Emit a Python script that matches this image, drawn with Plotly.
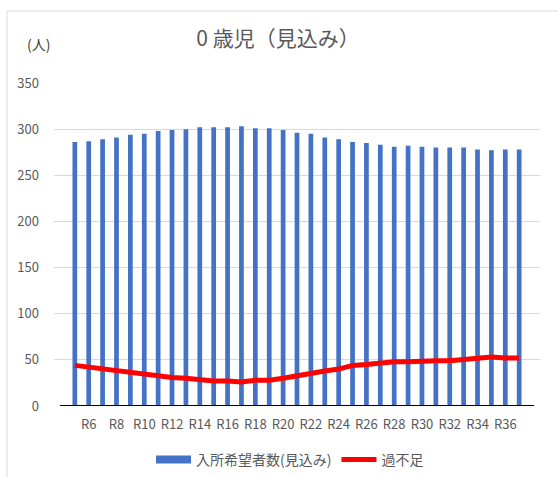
import plotly.graph_objects as go

categories = [f"R{i}" for i in range(5, 38)]
tick_labels = [f"R{i}" for i in range(6, 37, 2)]
demand = [286, 287, 289, 291, 294, 295, 298, 299, 300, 302, 302, 302, 303, 301, 301, 299, 296,
          295, 291, 289, 286, 285, 283, 281, 282, 281, 280, 280, 280, 278, 277, 278, 278]
shortfall = [44, 42, 40, 38, 36, 35, 32, 31, 30, 28, 27, 27, 26, 28, 28, 30, 33,
             35, 38, 40, 44, 45, 47, 48, 48, 49, 49, 49, 50, 52, 53, 52, 52]

font = "Noto Sans CJK JP"
gray = "#595959"
blue = "#4472C4"

fig = go.Figure()
fig.add_trace(go.Bar(x=categories, y=demand, name="入所希望者数(見込み)", showlegend=False,
                     marker=dict(color=blue, line=dict(width=0))))
# legend-only entry so the swatch is a wide rectangle as in the original
fig.add_trace(go.Scatter(x=[None], y=[None], name="入所希望者数(見込み)", mode="lines",
                         line=dict(color=blue, width=8)))
fig.add_trace(go.Scatter(x=categories, y=shortfall, name="過不足", mode="lines",
                         line=dict(color="#FF0000", width=5)))

W, H = 558, 477
L, R, T, B = 54, 18, 83, 71
pw, ph = W - L - R, H - T - B

def px(x):
    return (x - L) / pw

def py(y):
    return (H - B - y) / ph

fig.update_layout(
    width=W, height=H,
    margin=dict(l=L, r=R, t=T, b=B, autoexpand=False),
    paper_bgcolor="white", plot_bgcolor="white",
    font=dict(family=font, color=gray, size=13),
    bargap=0.66,
    title=dict(text="0 歳児（見込み）", x=px(278), xanchor="center", xref="paper",
               y=1 - 39 / H, yanchor="middle", font=dict(size=21, color=gray, family=font)),
    xaxis=dict(range=[-1.5, 33.5], tickmode="array", tickvals=tick_labels, ticktext=tick_labels,
               showgrid=False, showline=False, ticks="", zeroline=False,
               tickfont=dict(size=13, color=gray), ticklabelstandoff=9),
    yaxis=dict(range=[0, 350], dtick=50, showgrid=True, gridcolor="#D9D9D9", gridwidth=1,
               zeroline=False, showline=False, ticks="", tickfont=dict(size=13, color=gray),
               ticklabelstandoff=14),
    legend=dict(orientation="h", x=px(290), xanchor="center", y=py(460), yanchor="middle",
                font=dict(size=14, color=gray), itemwidth=35, tracegroupgap=0),
    showlegend=True,
    annotations=[dict(text="(人)", x=px(38), y=py(44), xref="paper", yref="paper",
                      xanchor="center", yanchor="middle",
                      showarrow=False, font=dict(size=14, color="#404040", family=font))],
    shapes=[
        dict(type="line", xref="x", yref="y", x0=-1.08, x1=33.08, y0=0, y1=0,
             line=dict(color="black", width=2)),
        dict(type="rect", xref="paper", yref="paper", x0=px(7), x1=px(565), y0=py(11), y1=py(490),
             line=dict(color="#D9D9D9", width=1), fillcolor="rgba(0,0,0,0)", layer="below"),
    ],
)

fig.write_html("out.html", config={"displayModeBar": False},
               post_script="document.body.style.margin='0';document.body.style.overflow='hidden';")
